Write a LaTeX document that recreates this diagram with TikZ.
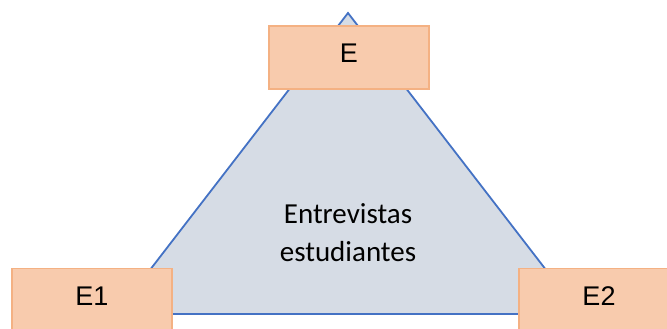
\documentclass[tikz,border=0pt]{standalone}
\usepackage{fontspec}
\setmainfont{Liberation Sans}
\newfontfamily\carlito{Carlito}
\usetikzlibrary{positioning}
\definecolor{boxfill}{HTML}{F8CBAD}
\definecolor{boxline}{HTML}{F4B183}
\definecolor{trifill}{HTML}{D6DCE5}
\definecolor{triline}{HTML}{4472C4}
\tikzstyle{etapa} = [rectangle, draw=boxline, fill=boxfill, line width=1.8pt, minimum width=160pt, minimum height=63pt, font=\fontsize{27}{30}\selectfont, text depth=8pt]
\tikzstyle{centro} = [align=center, font=\carlito\fontsize{29}{38}\selectfont]

\begin{document}
\begin{tikzpicture}[x=1pt, y=1pt]
  \useasboundingbox (0,0) rectangle (667,329);
  % triangulo
  \coordinate (top) at (348,316);
  \coordinate (left) at (116,15);
  \coordinate (right) at (580,15);
  \draw[draw=triline, fill=trifill, line width=1.8pt, line join=miter] (top) -- (left) -- (right) -- cycle;
  \node[centro] (T) at (348,96) {Entrevistas\\estudiantes};

  % cajas
  \node[etapa] (E) at (349,271.5) {E};
  \node[etapa] (E1) at (92,29) {E1};
  \node[etapa] (E2) at (599,29) {E2};
\end{tikzpicture}
\end{document}
